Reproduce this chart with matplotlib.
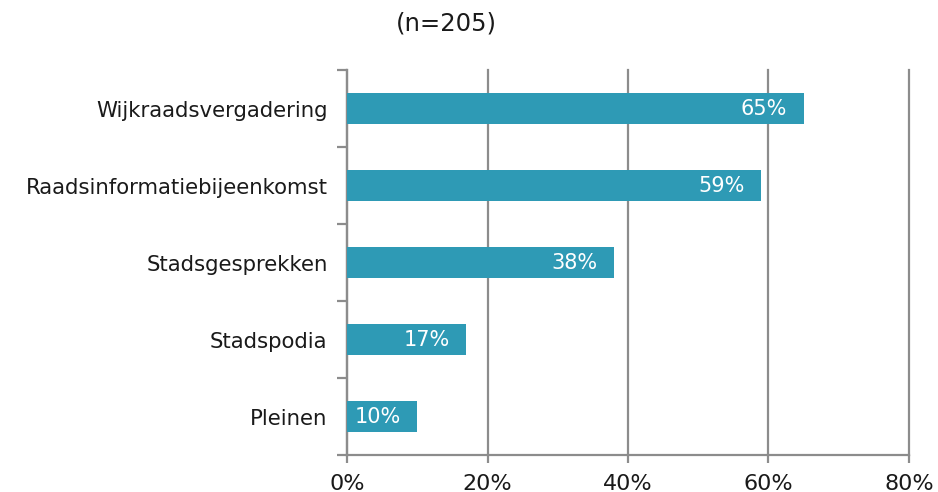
import numpy as np
import matplotlib.pyplot as plt

# data
categories = ["Wijkraadsvergadering", "Raadsinformatiebijeenkomst", "Stadsgesprekken",
              "Stadspodia", "Pleinen"]
values = [65, 59, 38, 17, 10]
xticks = [0, 20, 40, 60, 80]

BAR_COLOR = "#2E9AB5"
GRID_COLOR = "#8C8C8C"
TEXT_COLOR = "#1A1A1A"

fig = plt.figure(figsize=(9.38, 4.92), dpi=100)
ax = fig.add_axes([0.370, 0.0752, 0.599, 0.7825])

y = np.arange(len(categories))
ax.barh(y, values, height=0.39, color=BAR_COLOR, zorder=3)

# labels inside bars
for yi, v in zip(y, values):
    ax.annotate(f"{v}%", (v, yi), xytext=(-12, 0), textcoords="offset points",
                ha="right", va="center", color="white", fontsize=15, zorder=4)

ax.set_xlim(0, 80)
ax.set_ylim(len(categories) - 0.5, -0.5)
ax.set_xticks(xticks)
ax.set_xticklabels([f"{t}%" for t in xticks], fontsize=16, color=TEXT_COLOR)
ax.xaxis.grid(True, color=GRID_COLOR, linewidth=1.6, zorder=0)
for gl in ax.get_xgridlines():
    gl.set_clip_on(False)

# category labels, ticks at the boundaries
ax.set_yticks(y)
ax.set_yticklabels(categories, fontsize=15.3, color=TEXT_COLOR)
ax.tick_params(axis="y", length=0, pad=14)
ax.set_yticks(np.arange(-0.5, len(categories)), minor=True)
ax.tick_params(axis="y", which="minor", length=7, width=1.6, color=GRID_COLOR)
ax.tick_params(axis="x", length=6, width=1.6, color=GRID_COLOR, pad=8)

for s in ["top", "right"]:
    ax.spines[s].set_visible(False)
for s in ["left", "bottom"]:
    ax.spines[s].set_color(GRID_COLOR)
    ax.spines[s].set_linewidth(1.6)

fig.text(0.476, 0.952, "(n=205)", ha="center", va="center", fontsize=17.5,
         color=TEXT_COLOR)

fig.savefig("out.png", dpi=100)
